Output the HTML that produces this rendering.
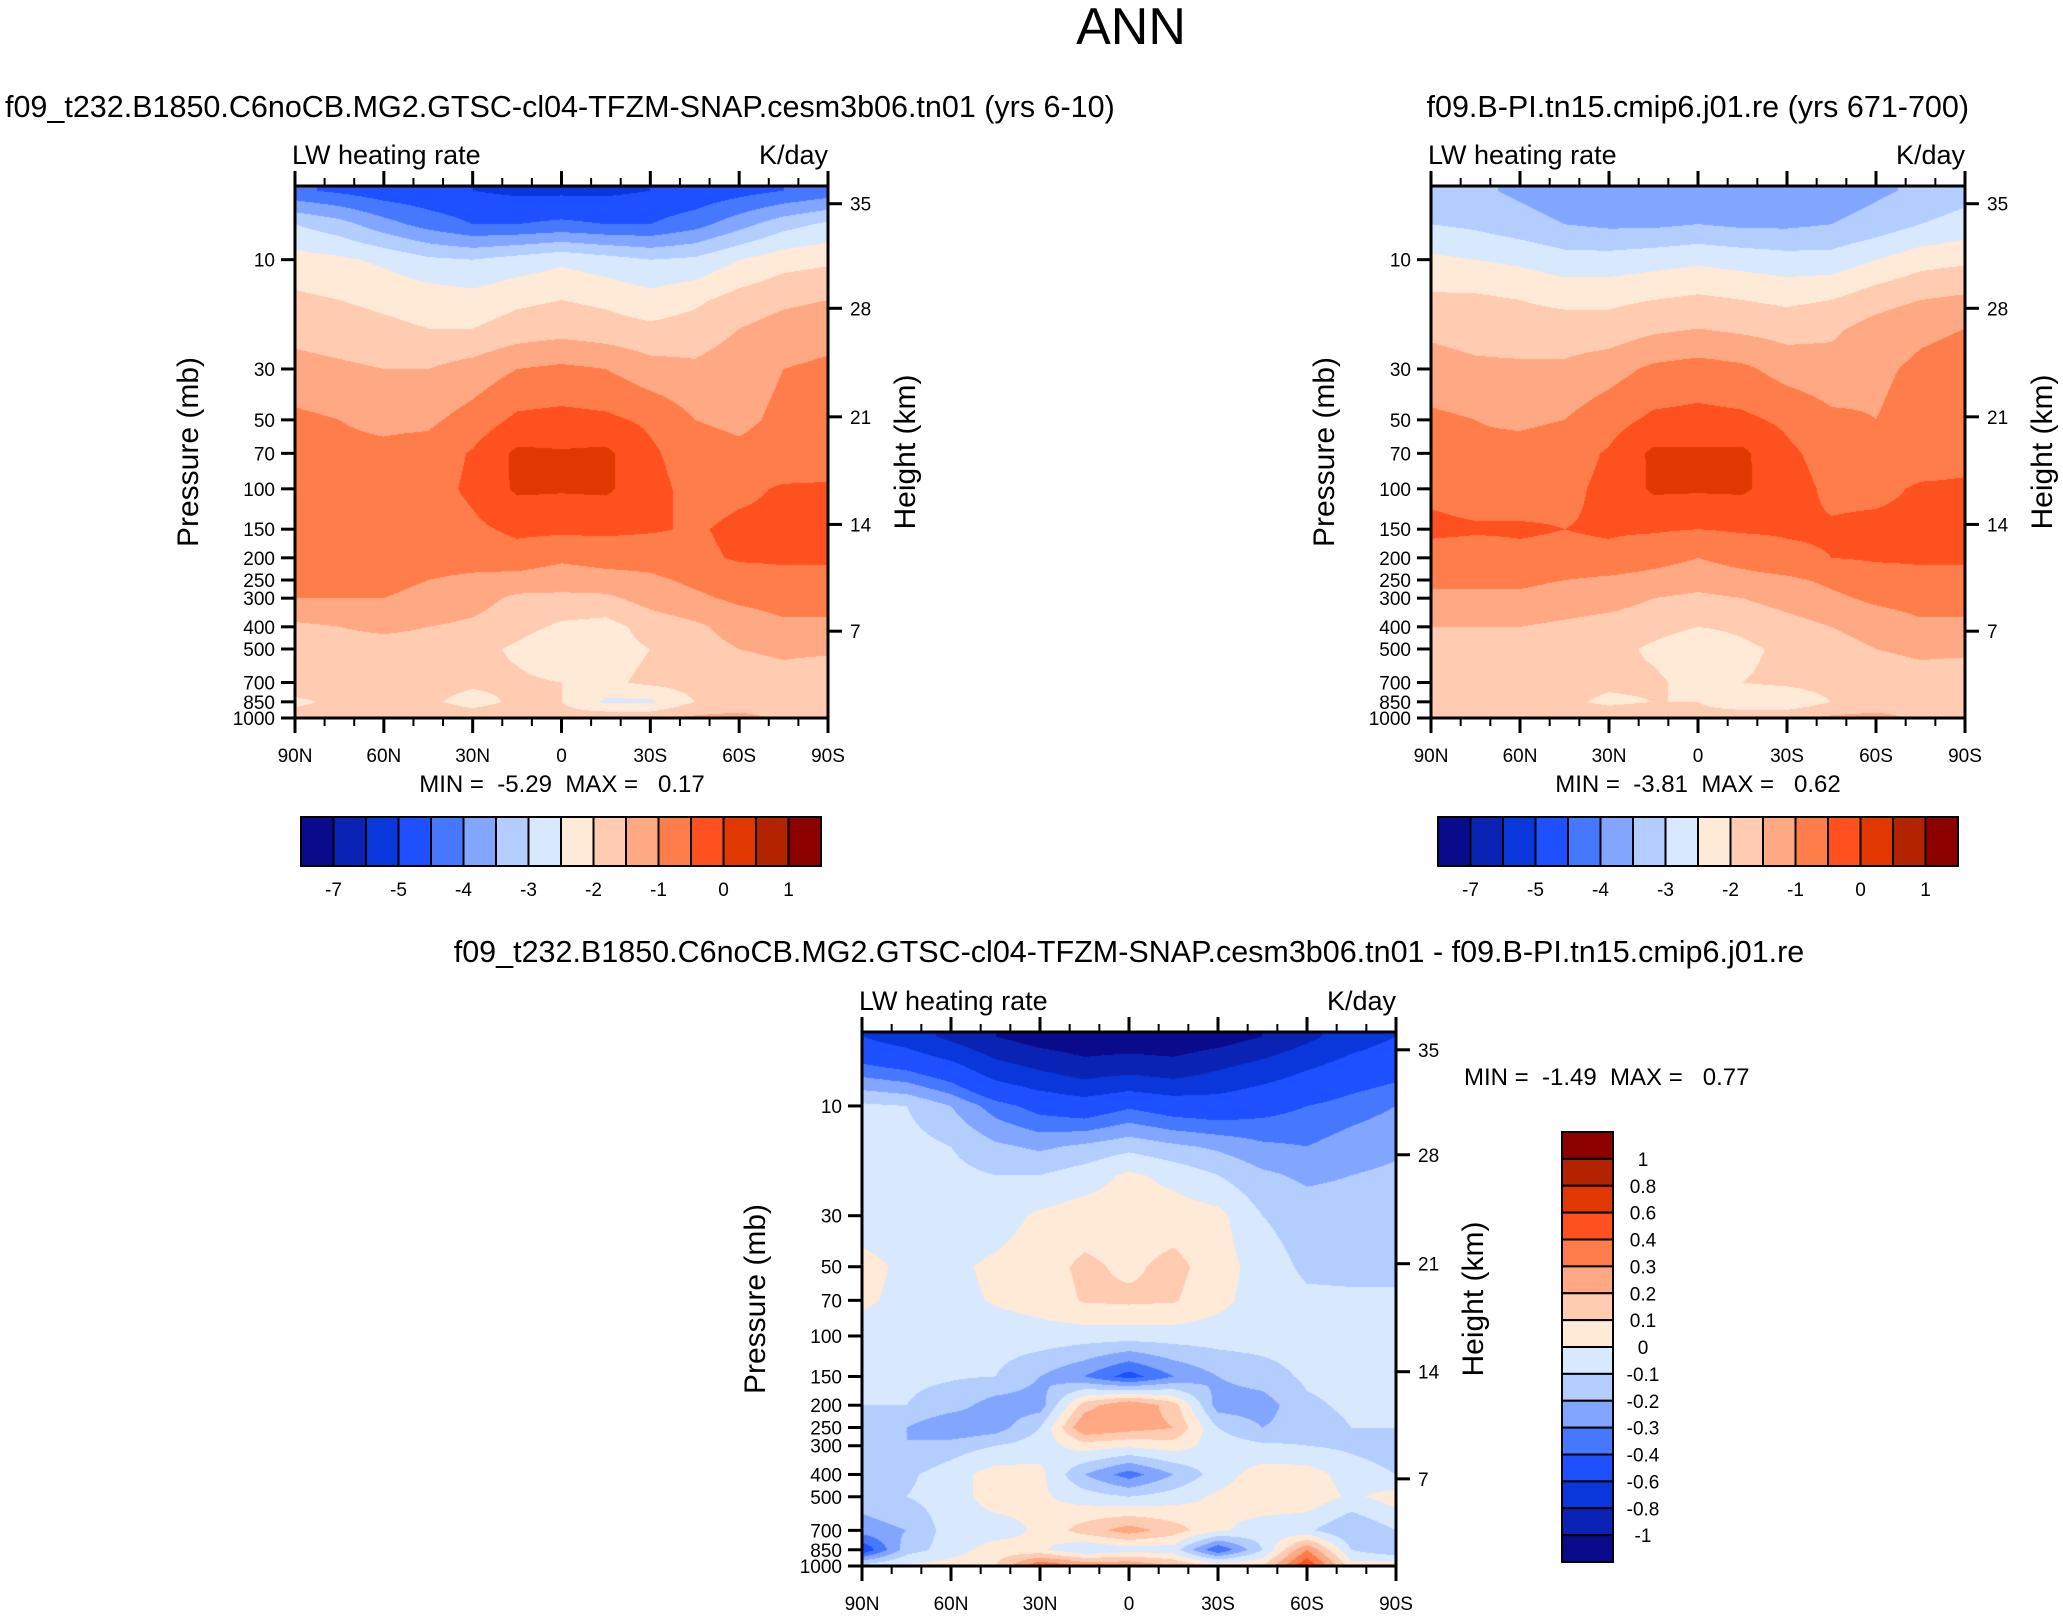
<!DOCTYPE html>
<html><head><meta charset="utf-8">
<style>
html,body{margin:0;padding:0;background:#fff;}
#root{position:relative;width:2063px;height:1616px;overflow:hidden;font-family:"Liberation Sans",sans-serif;}
canvas{position:absolute;}
svg{position:absolute;left:0;top:0;}
text{white-space:pre;}
</style></head>
<body>
<div id="root">
<canvas id="c1"></canvas>
<canvas id="c2"></canvas>
<canvas id="c3"></canvas>
<svg id="s" width="2063" height="1616"></svg>
</div>
<script>
// ---------- data ----------
const lats = [90,75,60,45,30,15,0,-15,-30,-45,-60,-75,-90];
const plevs = [5,7,10,15,20,30,50,70,100,150,200,250,300,400,500,700,850,1000];
const p1 = [
[-4.4,-4.6,-4.8,-4.9,-5.0,-5.1,-5.1,-5.1,-5.0,-4.9,-4.7,-4.5,-4.3],
[-3.0,-3.3,-3.8,-4.2,-4.5,-4.5,-4.4,-4.5,-4.5,-4.2,-3.7,-3.2,-2.9],
[-2.3,-2.4,-2.6,-2.9,-3.0,-2.8,-2.6,-2.8,-3.0,-2.9,-2.5,-2.2,-2.1],
[-1.9,-2.0,-2.1,-2.2,-2.3,-2.1,-2.0,-2.1,-2.3,-2.1,-1.8,-1.6,-1.5],
[-1.7,-1.8,-1.9,-2.0,-2.0,-1.8,-1.7,-1.8,-1.9,-1.8,-1.5,-1.3,-1.2],
[-1.3,-1.4,-1.5,-1.5,-1.3,-1.0,-0.9,-1.0,-1.3,-1.4,-1.2,-1.0,-0.9],
[-0.9,-1.0,-1.1,-1.1,-0.8,-0.4,-0.35,-0.4,-0.6,-1.0,-1.1,-0.9,-0.8],
[-0.8,-0.9,-0.9,-0.8,-0.45,0.1,0.05,0.1,-0.4,-0.8,-0.9,-0.8,-0.7],
[-0.8,-0.8,-0.8,-0.7,-0.4,0.08,0.05,0.08,-0.3,-0.7,-0.6,-0.45,-0.45],
[-0.8,-0.8,-0.8,-0.8,-0.6,-0.4,-0.4,-0.4,-0.45,-0.55,-0.4,-0.4,-0.4],
[-0.9,-0.9,-0.8,-0.8,-0.8,-0.7,-0.9,-0.8,-0.8,-0.6,-0.45,-0.45,-0.45],
[-0.9,-0.9,-0.9,-1.0,-1.1,-1.2,-1.3,-1.2,-1.1,-0.9,-0.7,-0.6,-0.6],
[-1.0,-1.0,-1.0,-1.1,-1.3,-1.6,-1.6,-1.6,-1.3,-1.1,-0.9,-0.8,-0.8],
[-1.6,-1.5,-1.4,-1.5,-1.6,-1.8,-2.1,-2.2,-1.8,-1.6,-1.3,-1.1,-1.1],
[-1.7,-1.7,-1.7,-1.7,-1.8,-2.1,-2.5,-2.2,-2.0,-1.7,-1.5,-1.4,-1.4],
[-1.7,-1.7,-1.7,-1.8,-1.9,-1.9,-2.0,-2.1,-1.9,-1.8,-1.8,-1.7,-1.9],
[-2.1,-1.9,-1.8,-1.9,-2.2,-1.9,-2.0,-2.6,-2.6,-2.0,-1.9,-1.8,-2.0],
[-1.8,-1.8,-1.6,-1.6,-1.7,-1.6,-1.8,-1.6,-1.6,-1.4,-1.3,-1.6,-1.8]];
const p2 = [
[-3.3,-3.4,-3.6,-3.8,-3.9,-3.9,-3.9,-3.9,-3.9,-3.8,-3.6,-3.4,-3.2],
[-3.0,-3.1,-3.3,-3.5,-3.6,-3.6,-3.5,-3.6,-3.6,-3.5,-3.3,-3.0,-2.8],
[-2.4,-2.5,-2.6,-2.8,-2.8,-2.7,-2.6,-2.7,-2.8,-2.8,-2.5,-2.2,-2.1],
[-1.9,-1.9,-2.0,-2.1,-2.1,-2.0,-1.9,-2.0,-2.1,-2.0,-1.7,-1.5,-1.4],
[-1.6,-1.7,-1.8,-1.8,-1.8,-1.6,-1.5,-1.6,-1.7,-1.6,-1.3,-1.1,-1.0],
[-1.3,-1.4,-1.4,-1.4,-1.2,-0.9,-0.8,-0.9,-1.2,-1.3,-1.1,-0.9,-0.8],
[-0.9,-1.0,-1.1,-1.0,-0.7,-0.4,-0.35,-0.4,-0.6,-0.9,-1.0,-0.8,-0.7],
[-0.8,-0.9,-0.8,-0.7,-0.45,0.1,0.08,0.1,-0.4,-0.7,-0.8,-0.7,-0.6],
[-0.6,-0.7,-0.7,-0.6,-0.4,0.08,0.06,0.08,-0.3,-0.6,-0.6,-0.45,-0.45],
[-0.4,-0.45,-0.45,-0.5,-0.45,-0.45,-0.5,-0.45,-0.45,-0.45,-0.4,-0.4,-0.4],
[-0.7,-0.7,-0.6,-0.6,-0.6,-0.8,-1.0,-0.8,-0.6,-0.5,-0.45,-0.45,-0.45],
[-0.9,-0.9,-0.9,-1.0,-1.1,-1.2,-1.3,-1.2,-1.1,-0.9,-0.7,-0.6,-0.6],
[-1.1,-1.1,-1.1,-1.2,-1.3,-1.5,-1.6,-1.5,-1.3,-1.1,-0.9,-0.8,-0.8],
[-1.5,-1.5,-1.5,-1.6,-1.7,-1.8,-2.0,-1.9,-1.7,-1.5,-1.3,-1.1,-1.1],
[-1.7,-1.7,-1.7,-1.7,-1.8,-2.1,-2.4,-2.1,-1.9,-1.7,-1.5,-1.4,-1.4],
[-1.7,-1.7,-1.7,-1.8,-1.9,-1.9,-2.2,-2.0,-1.9,-1.8,-1.8,-1.7,-1.8],
[-1.9,-1.9,-1.8,-1.9,-2.1,-2.0,-2.0,-2.4,-2.4,-2.0,-1.9,-1.8,-2.0],
[-1.8,-1.8,-1.6,-1.6,-1.7,-1.6,-1.8,-1.6,-1.6,-1.4,-1.3,-1.6,-1.8]];
const p3 = [
[-0.6,-0.7,-0.85,-1.0,-1.1,-1.15,-1.15,-1.15,-1.1,-1.0,-0.85,-0.7,-0.6],
[-0.35,-0.4,-0.5,-0.7,-0.8,-0.9,-0.85,-0.9,-0.8,-0.7,-0.6,-0.5,-0.45],
[-0.08,-0.1,-0.2,-0.35,-0.45,-0.5,-0.42,-0.48,-0.5,-0.45,-0.4,-0.35,-0.3],
[-0.05,-0.06,-0.1,-0.18,-0.22,-0.18,-0.13,-0.18,-0.22,-0.28,-0.3,-0.25,-0.22],
[-0.05,-0.05,-0.07,-0.1,-0.1,-0.05,0.02,-0.03,-0.1,-0.18,-0.22,-0.2,-0.18],
[-0.05,-0.05,-0.06,-0.05,0.02,0.05,0.05,0.05,0.03,-0.1,-0.15,-0.15,-0.15],
[0.03,-0.02,-0.02,0.02,0.06,0.12,0.08,0.13,0.05,-0.05,-0.12,-0.13,-0.13],
[0.02,-0.03,-0.03,0.01,0.04,0.11,0.12,0.11,0.03,-0.05,-0.08,-0.08,-0.08],
[-0.05,-0.05,-0.05,-0.05,-0.04,-0.05,-0.05,-0.05,-0.05,-0.05,-0.05,-0.05,-0.05],
[-0.08,-0.08,-0.09,-0.1,-0.2,-0.3,-0.45,-0.3,-0.2,-0.15,-0.08,-0.06,-0.06],
[-0.1,-0.1,-0.15,-0.25,-0.25,0.15,0.3,0.15,-0.25,-0.25,-0.12,-0.08,-0.08],
[-0.15,-0.2,-0.3,-0.25,-0.1,0.3,0.25,0.2,-0.1,-0.2,-0.15,-0.1,-0.1],
[-0.2,-0.2,-0.15,-0.1,-0.05,0.05,0.02,0.05,-0.05,-0.08,-0.1,-0.12,-0.15],
[-0.15,-0.12,-0.05,0.05,0.03,-0.2,-0.35,-0.2,-0.05,0.05,0.05,-0.05,-0.1],
[-0.15,-0.1,-0.05,0.05,0.02,-0.05,-0.1,-0.05,0.02,0.07,0.07,-0.02,0.05],
[-0.25,-0.2,-0.05,-0.05,0.02,0.15,0.25,0.15,0.02,-0.05,-0.08,-0.2,-0.1],
[-0.5,-0.15,-0.05,0.05,0.02,-0.1,-0.05,-0.05,-0.4,-0.1,0.3,-0.1,-0.2],
[-0.05,0.02,0.05,0.1,0.4,0.3,0.3,0.2,0.1,0.1,0.5,0.05,0.1]];
const levelsAbs = [-7,-6,-5,-4.5,-4,-3.5,-3,-2.5,-2,-1.5,-1,-0.5,0,0.5,1];
const levelsDiff = [-1,-0.8,-0.6,-0.4,-0.3,-0.2,-0.1,0,0.1,0.2,0.3,0.4,0.6,0.8,1];
const colors = ["#0a0a8c","#0a23b4","#0a37dc","#1e50ff","#4678ff","#82a5ff","#b4cdff","#d7e8ff","#ffe9d7","#ffcbb1","#ffa884","#ff7d4b","#ff5020","#e13700","#b42300","#8c0000"];
const pTicks = [10,30,50,70,100,150,200,250,300,400,500,700,850,1000];
const hTickLabels = ["35","28","21","14","7"];
const hTickPressures = [5.7,16.3,48.5,143,418];
const latTicks = [90,60,30,0,-30,-60,-90];
const latTickLabels = ["90N","60N","30N","0","30S","60S","90S"];
const absBarLabels = ["-7","-5","-4","-3","-2","-1","0","1"];
const absBarLabelIdx = [1,3,5,7,9,11,13,15];
const diffBarLabels = ["1","0.8","0.6","0.4","0.3","0.2","0.1","0","-0.1","-0.2","-0.3","-0.4","-0.6","-0.8","-1"];
// ---------- layout ----------
const PTOP = 4.77, PBOT = 1000;
const panels = [
 {id:'c1',x:295,y:186,w:533,h:532,data:p1,lev:levelsAbs},
 {id:'c2',x:1431,y:186,w:534,h:532,data:p2,lev:levelsAbs},
 {id:'c3',x:862,y:1032,w:534,h:534,data:p3,lev:levelsDiff}];
function yOf(P,p){return P.y+P.h*(Math.log10(p)-Math.log10(PTOP))/(Math.log10(PBOT)-Math.log10(PTOP));}
function xOf(P,lat){return P.x+P.w*(90-lat)/180;}
function colorIdx(v,lev){let i=0;while(i<lev.length&&v>=lev[i])i++;return i;}
function hex(c){return [parseInt(c.slice(1,3),16),parseInt(c.slice(3,5),16),parseInt(c.slice(5,7),16)];}
const rgb = colors.map(hex);
const lp = plevs.map(Math.log10);
panels.forEach(P=>{
 const cv=document.getElementById(P.id);cv.width=P.w;cv.height=P.h;
 cv.style.left=P.x+'px';cv.style.top=P.y+'px';
 const ctx=cv.getContext('2d');const img=ctx.createImageData(P.w,P.h);
 for(let j=0;j<P.h;j++){
  const l=Math.log10(PTOP)+(j+0.5)/P.h*(Math.log10(PBOT)-Math.log10(PTOP));
  let k=0;while(k<lp.length-2&&l>lp[k+1])k++;
  let t=(l-lp[k])/(lp[k+1]-lp[k]);t=Math.max(0,Math.min(1,t));
  for(let i=0;i<P.w;i++){
   const f=(i+0.5)/P.w*(lats.length-1);let a=Math.min(lats.length-2,Math.floor(f));const s=f-a;
   const r0=P.data[k],r1=P.data[k+1];
   const v=(r0[a]*(1-s)+r0[a+1]*s)*(1-t)+(r1[a]*(1-s)+r1[a+1]*s)*t;
   const c=rgb[colorIdx(v,P.lev)];const o=(j*P.w+i)*4;
   img.data[o]=c[0];img.data[o+1]=c[1];img.data[o+2]=c[2];img.data[o+3]=255;
  }
 }
 ctx.putImageData(img,0,0);
});
// ---------- svg ----------
const S=document.getElementById('s');const NS='http://www.w3.org/2000/svg';
function el(tag,attrs,txt){const e=document.createElementNS(NS,tag);for(const k in attrs)e.setAttribute(k,attrs[k]);if(txt!==undefined)e.textContent=txt;S.appendChild(e);return e;}
function text(x,y,s,size,anchor,name,extra){const e=el('text',Object.assign({x:x,y:y,'font-size':size,'text-anchor':anchor||'middle','font-family':'Liberation Sans, sans-serif',fill:'#000'},extra||{}),s);
 
 return e;}
function line(x1,y1,x2,y2,w,name){const e=el('line',{x1:x1,y1:y1,x2:x2,y2:y2,stroke:'#000','stroke-width':w});
 
 return e;}
text(1131,44,'ANN',52,'middle','figure-title');
text(5,117,'f09_t232.B1850.C6noCB.MG2.GTSC-cl04-TFZM-SNAP.cesm3b06.tn01 (yrs 6-10)',30.5,'start','panel1-title');
text(1969,117,'f09.B-PI.tn15.cmip6.j01.re (yrs 671-700)',30.5,'end','panel2-title');
text(1129,962,'f09_t232.B1850.C6noCB.MG2.GTSC-cl04-TFZM-SNAP.cesm3b06.tn01 - f09.B-PI.tn15.cmip6.j01.re',30.5,'middle','panel3-title');
panels.forEach((P,n)=>{
 const pre='panel'+(n+1)+'-';
 const r=el('rect',{x:P.x,y:P.y,width:P.w,height:P.h,fill:'none',stroke:'#000','stroke-width':3});
 
 
 text(P.x-3,P.y-22,'LW heating rate',27,'start',pre+'variable-label');
 text(P.x+P.w,P.y-22,'K/day',27,'end',pre+'units-label');
 pTicks.forEach(p=>{const y=yOf(P,p);line(P.x-14,y,P.x,y,3,pre+'pressure-tick');text(P.x-20,y+7,String(p),19,'end',pre+'pressure-tick-label');});
 hTickPressures.forEach((p,i)=>{const y=yOf(P,p);line(P.x+P.w,y,P.x+P.w+14,y,3,pre+'height-tick');text(P.x+P.w+22,y+7,hTickLabels[i],19,'start',pre+'height-tick-label');});
 for(let lat=90;lat>=-90;lat-=10){const x=xOf(P,lat);const maj=(lat%30===0);const L=maj?15:8;
  line(x,P.y+P.h,x,P.y+P.h+L,maj?3:2,pre+'lat-tick');line(x,P.y-L,x,P.y,maj?3:2,pre+'lat-tick-top');}
 latTicks.forEach((lat,i)=>text(xOf(P,lat),P.y+P.h+44,latTickLabels[i],19,'middle',pre+'lat-tick-label'));
 const cy=P.y+P.h/2;
 text(0,0,'Pressure (mb)',30,'middle',pre+'y-axis-title',{transform:`translate(${P.x-97},${cy}) rotate(-90)`});
 text(0,0,'Height (km)',30,'middle',pre+'right-axis-title',{transform:`translate(${P.x+P.w+87},${cy}) rotate(-90)`});
});
text(562,792,'MIN =  -5.29  MAX =   0.17',24,'middle','panel1-min-max');
text(1698,792,'MIN =  -3.81  MAX =   0.62',24,'middle','panel2-min-max');
text(1464,1085,'MIN =  -1.49  MAX =   0.77',24,'start','panel3-min-max');
// horizontal colorbars
[[301,'panel1'],[1438,'panel2']].forEach(([x0,pre])=>{
 const W=520,y0=817,H=49,bw=W/colors.length;
 colors.forEach((c,i)=>{const r=el('rect',{x:x0+i*bw,y:y0,width:bw,height:H,fill:c,stroke:'#000','stroke-width':2});
  
  });
 absBarLabels.forEach((s,i)=>text(x0+absBarLabelIdx[i]*bw,896,s,19,'middle',pre+'-colorbar-label'));
});
// vertical colorbar
{const x0=1562,y0=1132,W=51,H=430,bh=H/colors.length;
 colors.slice().reverse().forEach((c,i)=>{const r=el('rect',{x:x0,y:y0+i*bh,width:W,height:bh,fill:c,stroke:'#000','stroke-width':2});
  
  });
 diffBarLabels.forEach((s,i)=>text(1643,y0+(i+1)*bh+7,s,19,'middle','panel3-colorbar-label'));
}
</script>
</body></html>
